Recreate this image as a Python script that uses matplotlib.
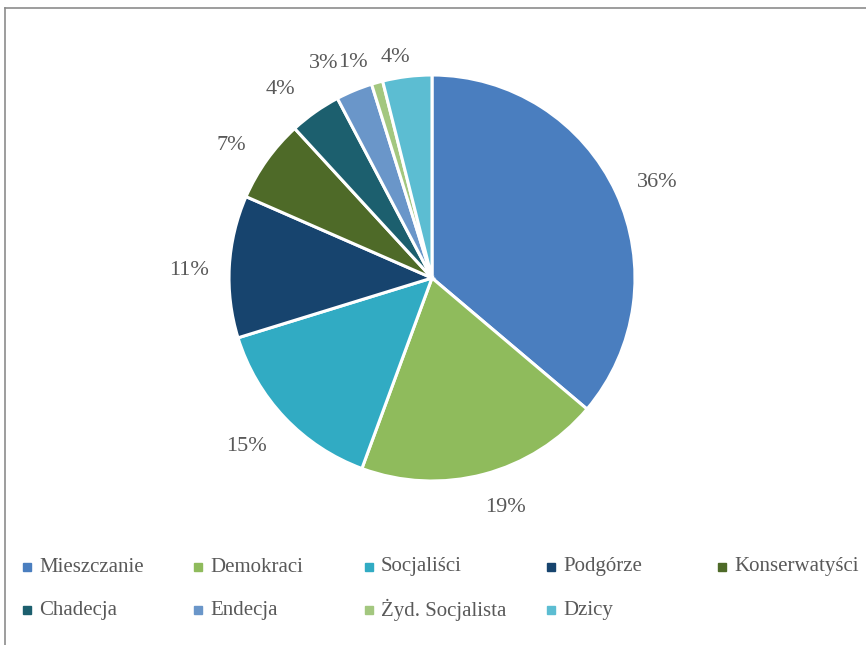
import numpy as np
import matplotlib
matplotlib.use("Agg")
import matplotlib.pyplot as plt
from matplotlib.lines import Line2D
from matplotlib.transforms import offset_copy

parties = ['Mieszczanie', 'Demokraci', 'Socjaliści', 'Podgórze', 'Konserwatyści',
           'Chadecja', 'Endecja', 'Żyd. Socjalista', 'Dzicy']
shares = [36.1, 19.4, 14.6, 11.3, 6.6, 4.1, 2.9, 0.9, 3.9]
colors = ['#4a7ebf', '#8fbb5c', '#31abc3', '#17446e', '#4e6a28',
          '#1c5f6e', '#6a96c9', '#a3c77f', '#5cbdd2']

# label placement tweaks (radius in pie radii, extra angle in degrees)
label_r = [1.21, 1.18, 1.23, 1.2, 1.19, 1.2, 1.19, 1.14, 1.11]
label_da = [-1.4, 3.2, -1.6, 0.9, 1.7, 3.4, 4.0, 4.2, 2.2]

plt.rcParams['font.family'] = ['Liberation Serif', 'DejaVu Serif']
grey = '#595959'
fs = 16

fig = plt.figure(figsize=(8.66, 6.45), dpi=100)
W, H = 866, 645
cx, cy, R = 432, 278, 203
ax = fig.add_axes([(cx - R) / W, 1 - (cy + R) / H, 2 * R / W, 2 * R / H])

wedges, _ = ax.pie(shares, colors=colors, startangle=90, counterclock=False,
                   radius=1, wedgeprops=dict(edgecolor='white', linewidth=2.2))
ax.set_xlim(-1, 1)
ax.set_ylim(-1, 1)
ax.set_aspect('equal')
ax.axis('off')

lbl_tr = offset_copy(ax.transData, fig=fig, x=0, y=-2, units='dots')
total = sum(shares)
start = 90.0
for v, r, da in zip(shares, label_r, label_da):
    mid = start - v / total * 360 / 2 + da
    start -= v / total * 360
    t = np.deg2rad(mid)
    ax.text(r * np.cos(t), r * np.sin(t), f'{round(v)}%', ha='center', va='center',
            fontsize=fs, color=grey, clip_on=False, transform=lbl_tr)

# legend laid out like the original: 5 columns, 2 rows
col_x = [27, 198, 369, 551, 722]
row_y = [567, 610]
for i, (name, c) in enumerate(zip(parties, colors)):
    x = col_x[i % 5] / W
    y = 1 - row_y[i // 5] / H
    fig.add_artist(Line2D([x], [y], marker='s', markersize=6, linestyle='none',
                          markerfacecolor=c, markeredgecolor=c))
    fig.text(x + 12 / W, y, name, fontsize=15, color=grey, ha='left', va='center')

# outer frame of the chart area
fig.add_artist(Line2D([5 / W, 5 / W], [0, 1 - 8 / H], color='#8c8c8c', lw=1.2))
fig.add_artist(Line2D([5 / W, 1], [1 - 8 / H, 1 - 8 / H], color='#8c8c8c', lw=1.2))

fig.savefig('out.png', dpi=100)
